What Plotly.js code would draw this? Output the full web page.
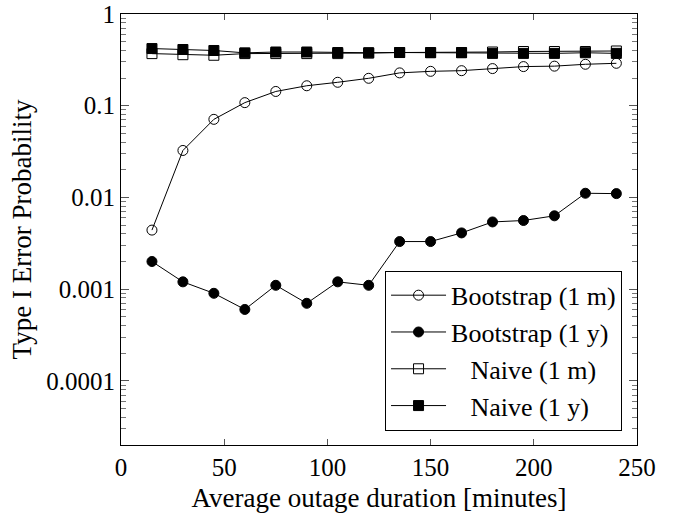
<!DOCTYPE html>
<html>
<head>
<meta charset="utf-8">
<script src="https://cdn.plot.ly/plotly-3.0.1.min.js"></script>
<style>html,body{margin:0;padding:0;background:#fff;}#chart{width:686px;height:518px;}</style>
</head>
<body>
<div id="chart"></div>
<script>
// Data
const durations = [15, 30, 45, 60, 75, 90, 105, 120, 135, 150, 165, 180, 195, 210, 225, 240];
const bootstrap1m = [0.0044, 0.0325, 0.071, 0.108, 0.143, 0.165, 0.18, 0.199, 0.228, 0.237, 0.241, 0.254, 0.267, 0.27, 0.283, 0.29];
const bootstrap1y = [0.0020, 0.0012, 0.0009, 0.0006, 0.0011, 0.0007, 0.0012, 0.0011, 0.0033, 0.0033, 0.0041, 0.0054, 0.0056, 0.0063, 0.0111, 0.011];
const naive1m = [0.37, 0.36, 0.355, 0.37, 0.37, 0.37, 0.37, 0.375, 0.38, 0.38, 0.38, 0.385, 0.39, 0.39, 0.39, 0.395];
const naive1y = [0.42, 0.41, 0.40, 0.377, 0.385, 0.385, 0.38, 0.378, 0.38, 0.378, 0.378, 0.372, 0.372, 0.372, 0.378, 0.372];
const seriesNames = ["Bootstrap (1 m)", "Bootstrap (1 y)", "\u00a0\u00a0\u00a0Naive (1 m)", "\u00a0\u00a0\u00a0Naive (1 y)"];
const yTickVals = [1, 0.1, 0.01, 0.001, 0.0001];
const yTickText = ["1", "0.1", "0.01", "0.001", "0.0001"];
const xTickVals = [0, 50, 100, 150, 200, 250];
const xTickText = ["0", "50", "100", "150", "200", "250"];
const xTitle = "Average outage duration [minutes]";
const yTitle = "Type I Error Probability";

const FONT = "'Liberation Serif', 'Times New Roman', serif";
function tr(y, name, symbol) {
  return {
    x: durations, y: y, name: name, type: "scatter", mode: "lines+markers",
    line: {color: "#000", width: 1},
    marker: {symbol: symbol, size: 10, color: "#000", line: {color: "#000", width: 1}}
  };
}
const data = [
  tr(bootstrap1m, seriesNames[0], "circle-open"),
  tr(bootstrap1y, seriesNames[1], "circle"),
  tr(naive1m, seriesNames[2], "square-open"),
  tr(naive1y, seriesNames[3], "square")
];
const layout = {
  width: 686, height: 518,
  margin: {l: 121, r: 49, t: 14, b: 73},
  paper_bgcolor: "#fff", plot_bgcolor: "#fff",
  font: {family: FONT, color: "#000", size: 25},
  showlegend: true,
  legend: {
    x: 0.971, xanchor: "right", y: 0.033, yanchor: "bottom",
    bgcolor: "#fff", bordercolor: "#000", borderwidth: 1,
    font: {family: FONT, size: 26, color: "#000"},
    itemwidth: 55
  },
  xaxis: {
    range: [0, 250], tickmode: "array", tickvals: xTickVals, ticktext: xTickText,
    ticks: "inside", ticklen: 6, tickcolor: "#555", tickwidth: 1,
    showline: true, linecolor: "#000", linewidth: 1, mirror: "ticks",
    showgrid: false, zeroline: false,
    tickfont: {family: FONT, size: 25},
    title: {text: xTitle, font: {family: FONT, size: 27}, standoff: 8}
  },
  yaxis: {
    type: "log", range: [-4.7, 0], tickmode: "array", tickvals: yTickVals, ticktext: yTickText,
    ticks: "inside", ticklen: 8, tickcolor: "#555", tickwidth: 1,
    minor: {ticks: "inside", ticklen: 5, tickcolor: "#777", tickwidth: 1, dtick: "D1", showgrid: false},
    showline: true, linecolor: "#000", linewidth: 1, mirror: "ticks",
    showgrid: false, zeroline: false,
    tickfont: {family: FONT, size: 25},
    title: {text: yTitle, font: {family: FONT, size: 27}, standoff: 6}
  }
};
Plotly.newPlot("chart", data, layout, {displayModeBar: false, staticPlot: true});
</script>
</body>
</html>
